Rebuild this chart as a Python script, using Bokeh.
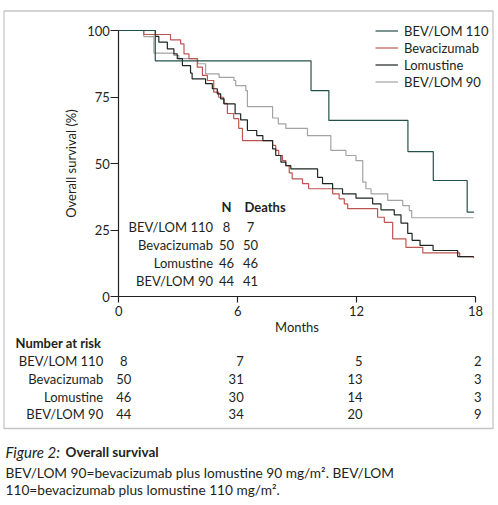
from bokeh.plotting import figure
from bokeh.models import (Range1d, FixedTicker, Legend, LegendItem, ColumnDataSource,
                          BoxAnnotation)
from bokeh.embed import file_html
from bokeh.resources import INLINE
from bokeh.core.properties import value

# ---------------- data ----------------
months_110 = [0, 1.84, 9.70, 10.60, 14.59, 15.87, 17.58, 17.92]
surv_110 = [100, 88.6, 77.4, 66.2, 54.5, 43.6, 31.7, 31.7]

months_bev = [0, 1.26, 2.61, 3.12, 3.29, 3.54, 3.96, 4.22, 4.47, 4.79, 5.04, 5.29, 5.48,
              5.80, 6.05, 6.24, 7.76, 7.92, 8.07, 8.26, 8.43, 8.60, 8.75, 9.27, 9.58,
              10.79, 11.12, 11.38, 11.55, 13.06, 13.40, 13.82, 14.49, 15.34, 17.20, 17.90]
surv_bev = [100, 98.5, 96.5, 95.0, 91.2, 89.4, 86.2, 83.1, 81.2, 76.8, 74.9, 72.6, 68.8,
            66.9, 63.2, 58.6, 56.8, 54.9, 53.0, 51.1, 49.2, 46.5, 44.2, 42.4, 40.5,
            38.6, 36.7, 34.8, 33.0, 29.8, 27.9, 21.7, 18.5, 16.4, 15.0, 14.5]

months_lom = [0, 1.85, 2.02, 2.45, 2.78, 2.95, 3.21, 3.62, 3.70, 4.38, 4.72, 4.97, 5.14,
              5.31, 5.87, 6.15, 6.49, 6.96, 7.27, 7.76, 7.92, 8.18, 8.43, 8.68, 10.03,
              10.28, 10.79, 11.29, 11.97, 12.81, 13.23, 13.90, 14.24, 14.58, 14.80,
              15.20, 15.86, 17.10, 17.90]
surv_lom = [100, 97.8, 95.6, 93.1, 91.2, 89.4, 86.8, 84.0, 81.8, 80.0, 78.1, 76.2, 74.3,
            72.4, 68.7, 66.4, 62.4, 60.5, 58.6, 55.5, 53.0, 50.5, 49.2, 48.0, 44.8,
            42.4, 40.5, 38.6, 37.0, 34.8, 32.6, 30.7, 27.6, 23.7, 21.1,
            19.2, 17.3, 15.0, 15.0]

months_90 = [0, 1.26, 1.77, 2.78, 3.03, 3.98, 4.38, 5.06, 5.81, 5.90, 6.41, 6.49, 7.76,
             8.05, 8.43, 9.52, 10.70, 11.46, 11.97, 12.31, 12.47, 12.73, 13.57, 14.33,
             14.66, 14.78, 17.90]
surv_90 = [100, 97.7, 91.5, 90.6, 89.4, 87.5, 83.7, 82.4, 81.2, 79.3, 77.4, 71.4, 67.1,
           64.9, 63.2, 60.5, 54.9, 53.0, 51.1, 43.0, 40.5, 38.6, 36.1, 34.2,
           32.3, 29.6, 29.6]

groups = ["BEV/LOM 110", "Bevacizumab", "Lomustine", "BEV/LOM 90"]
n_values = ["8", "50", "46", "44"]
deaths = ["7", "50", "46", "41"]

risk_months = [0, 6, 12, 18]
risk_110 = ["8", "7", "5", "2"]
risk_bev = ["50", "31", "13", "3"]
risk_lom = ["46", "30", "14", "3"]
risk_90 = ["44", "34", "20", "9"]

x_ticks = [0, 6, 12, 18]
y_ticks = [0, 25, 50, 75, 100]

caption_lines = ["BEV/LOM 90=bevacizumab plus lomustine 90 mg/m\u00b2. BEV/LOM",
                 "110=bevacizumab plus lomustine 110 mg/m\u00b2."]

# ---------------- style / layout ----------------
FONT = "Lato"
TXT = "#231f20"
C110 = "#24504a"
CBEV = "#bd5650"
CLOM = "#1e2622"
C90 = "#a3a3a3"
FS = "13px"

W, H = 498, 505
X0, Y0 = 118.3, 296.0               # page position of (0 months, 0 %)
PXM = (475.0 - X0) / 18.0           # px per month
PXP = 2.66                          # px per percent


def dx(page_x):
    return (page_x - X0) / PXM


def dy(page_y):
    return (Y0 - page_y) / PXP


p = figure(width=W, height=H, output_backend="svg", toolbar_location=None,
           x_range=Range1d(dx(0), dx(W)), y_range=Range1d(dy(H), dy(0)),
           min_border=0, min_border_left=0, min_border_right=0,
           min_border_top=0, min_border_bottom=0)
p.outline_line_color = None
p.grid.visible = False
p.background_fill_color = "white"
p.border_fill_color = "white"

for ax in (p.xaxis[0], p.yaxis[0]):
    ax.fixed_location = 0
    ax.axis_line_color = TXT
    ax.axis_line_width = 1.2
    ax.major_tick_line_color = TXT
    ax.major_tick_line_width = 1.2
    ax.major_tick_in = 0
    ax.minor_tick_in = 0
    ax.minor_tick_out = 0
    ax.major_label_text_font = FONT
    ax.major_label_text_font_size = FS
    ax.major_label_text_color = TXT
    ax.axis_label_text_font = FONT
    ax.axis_label_text_font_size = FS
    ax.axis_label_text_font_style = "normal"
    ax.axis_label_text_color = TXT

p.xaxis.bounds = (0, 18)
p.xaxis.ticker = FixedTicker(ticks=x_ticks)
p.xaxis.major_tick_out = 6
p.xaxis.major_label_standoff = 3
p.xaxis.axis_label = "Months"
p.xaxis.axis_label_standoff = 0

p.yaxis.bounds = (0, 100)
p.yaxis.ticker = FixedTicker(ticks=y_ticks)
p.yaxis.major_tick_out = 8
p.yaxis.major_label_standoff = 1
p.yaxis.axis_label = "Overall survival (%)"
p.yaxis.axis_label_standoff = 5

LW = 1.2
r90 = p.step(months_90, surv_90, mode="after", line_color=C90, line_width=LW)
rbev = p.step(months_bev, surv_bev, mode="after", line_color=CBEV, line_width=LW)
rlom = p.step(months_lom, surv_lom, mode="after", line_color=CLOM, line_width=LW)
r110 = p.step(months_110, surv_110, mode="after", line_color=C110, line_width=LW)

legend = Legend(items=[LegendItem(label=groups[0], renderers=[r110]),
                       LegendItem(label=groups[1], renderers=[rbev]),
                       LegendItem(label=groups[2], renderers=[rlom]),
                       LegendItem(label=groups[3], renderers=[r90])],
                location=(375, 415), glyph_width=23, glyph_height=17, label_height=17,
                spacing=0, padding=0, margin=0, label_standoff=6,
                border_line_color=None, background_fill_alpha=0,
                label_text_font=FONT, label_text_font_size=FS, label_text_color=TXT)
p.add_layout(legend)

txt = dict(text_font=value(FONT), text_font_size=FS, text_color=TXT,
           text_baseline="middle")

# N / Deaths table inside the plot
row_y = [dy(226), dy(244.3), dy(262.3), dy(280)]
tsrc = ColumnDataSource(dict(y=row_y, lab=groups, n=n_values, d=deaths))
p.text(x=dx(212.5), y="y", text="lab", source=tsrc, text_align="right", **txt)
p.text(x=dx(226), y="y", text="n", source=tsrc, text_align="center", **txt)
p.text(x=dx(250), y="y", text="d", source=tsrc, text_align="center", **txt)
p.text(x=[dx(226)], y=[dy(206.5)], text=["N"], text_align="center",
       text_font_style="bold", **txt)
p.text(x=[dx(244)], y=[dy(206.5)], text=["Deaths"], text_align="left",
       text_font_style="bold", **txt)

# Number at risk table (below the axis)
p.text(x=[dx(15)], y=[dy(342)], text=["Number at risk"], text_align="left",
       text_font_style="bold", **txt)
risk_rows = [risk_110, risk_bev, risk_lom, risk_90]
risk_y = [dy(360), dy(378.3), dy(396), dy(413.3)]
lsrc = ColumnDataSource(dict(y=risk_y, t=groups))
p.text(x=dx(102.7), y="y", text="t", source=lsrc, text_align="right", **txt)
for j, m in enumerate(risk_months):
    src = ColumnDataSource(dict(x=[m] * 4, y=risk_y, t=[row[j] for row in risk_rows]))
    if j == 0:
        p.text(x="x", y="y", text="t", source=src, text_align="center", x_offset=5, **txt)
    else:
        p.text(x="x", y="y", text="t", source=src, text_align="right", x_offset=6, **txt)

# frame box around the figure panel
p.add_layout(BoxAnnotation(left=dx(3.5), right=dx(492.5), top=dy(10.5), bottom=dy(428),
                           fill_alpha=0, line_color="#463c3c", line_width=1.3))

# caption
cap = dict(text_font=value(FONT), text_color=TXT, text_baseline="middle", text_align="left")
p.text(x=[dx(5)], y=[dy(451.7)], text=["Figure 2:"], text_font_style="italic",
       text_font_size="15px", **cap)
p.text(x=[dx(65)], y=[dy(451.7)], text=["Overall survival"], text_font_style="bold",
       text_font_size="13.5px", **cap)
p.text(x=[dx(5), dx(5)], y=[dy(471.5), dy(489.3)], text=caption_lines,
       text_font_size="13.7px", **cap)

open("out.html", "w").write(file_html(p, INLINE))
